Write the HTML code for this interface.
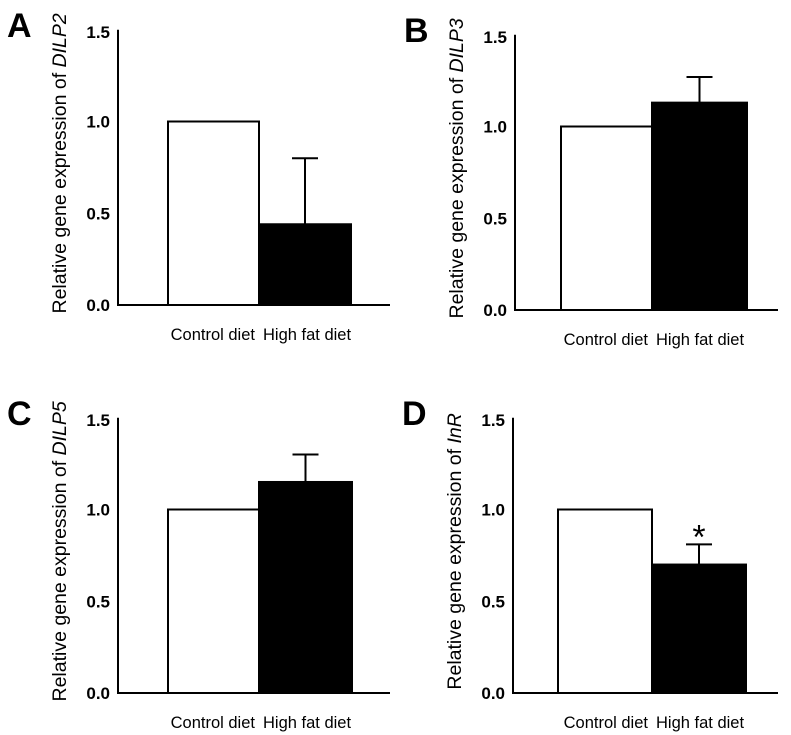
<!DOCTYPE html>
<html><head><meta charset="utf-8"><style>
html,body{margin:0;padding:0;background:#fff;}
svg{display:block;font-family:"Liberation Sans",Arial,sans-serif;}
</style></head><body>
<svg id="fig" width="791" height="735" viewBox="0 0 791 735"></svg>
<script>
const categories = ["Control diet", "High fat diet"];
const panelLetters = ["A", "B", "C", "D"];
const geneNames = ["DILP2", "DILP3", "DILP5", "InR"];
const controlValues = [1.0, 1.0, 1.0, 1.0];
const hfdValues = [0.44, 1.13, 1.15, 0.70];
const hfdErrors = [0.36, 0.14, 0.15, 0.11];
const significant = [false, false, false, true];
const tickLabels = ["0.0", "0.5", "1.0", "1.5"];
const tickValues = [0, 0.5, 1.0, 1.5];

const layout = [
  {ax:118, y0:305, b0:168, b1:259, b2:351, xe:390},
  {ax:515, y0:310, b0:561, b1:652, b2:747, xe:778},
  {ax:118, y0:693, b0:168, b1:259, b2:352, xe:390},
  {ax:513, y0:693, b0:558, b1:652, b2:746, xe:778}
];
const PX_PER_UNIT = 183.5;
const NS = "http://www.w3.org/2000/svg";
const svg = document.getElementById("fig");
function mk(tag, attrs, parent){
  const e = document.createElementNS(NS, tag);
  for (const k in attrs) e.setAttribute(k, attrs[k]);
  (parent||svg).appendChild(e);
  return e;
}
layout.forEach((L, i) => {
  const g = mk("g", {});
  
  
  const y = v => L.y0 - v * PX_PER_UNIT;
  const top = y(1.5);
  const lt = mk("text", {x: L.ax - 111, y: top + 7, "font-size": 34, "font-weight": "bold"}, g);
  lt.textContent = panelLetters[i];
  
  
  const tx = L.ax - 52, ty = (top + L.y0) / 2 - 4;
  const yt = mk("text", {x: tx, y: ty, "font-size": 19.5, "text-anchor": "middle", transform: `rotate(-90 ${tx} ${ty})`}, g);
  yt.innerHTML = 'Relative gene expression of <tspan font-style="italic">' + geneNames[i] + '</tspan>';
  
  
  tickValues.forEach((tv, k) => {
    const t = mk("text", {x: L.ax - 8, y: y(tv) + (tv === 1.5 ? 8 : 6), "font-size": 17, "font-weight": "bold", "text-anchor": "end"}, g);
    t.textContent = tickLabels[k];
    
    
  });
  const c = mk("rect", {x: L.b0, y: y(controlValues[i]), width: L.b1 - L.b0, height: controlValues[i] * PX_PER_UNIT, fill: "#fff", stroke: "#000", "stroke-width": 2}, g);
  
  
  const h = mk("rect", {x: L.b1, y: y(hfdValues[i]), width: L.b2 - L.b1, height: hfdValues[i] * PX_PER_UNIT, fill: "#000", stroke: "#000", "stroke-width": 2}, g);
  
  
  const mx = (L.b1 + L.b2) / 2;
  const eTop = y(hfdValues[i] + hfdErrors[i]);
  const e1 = mk("line", {x1: mx, x2: mx, y1: y(hfdValues[i]), y2: eTop, stroke: "#000", "stroke-width": 2}, g);
  
  
  const e2 = mk("line", {x1: mx - 13, x2: mx + 13, y1: eTop, y2: eTop, stroke: "#000", "stroke-width": 2}, g);
  
  
  if (significant[i]) {
    const s = mk("text", {x: mx, y: eTop + 4, "font-size": 34, "text-anchor": "middle"}, g);
    s.textContent = "*";
    
    
  }
  const ya = mk("line", {x1: L.ax, x2: L.ax, y1: top, y2: L.y0 + 1, stroke: "#000", "stroke-width": 2}, g);
  
  
  const xa = mk("line", {x1: L.ax - 1, x2: L.xe, y1: L.y0, y2: L.y0, stroke: "#000", "stroke-width": 2}, g);
  
  
  const cl0 = mk("text", {x: L.b1 - 4, y: L.y0 + 35, "font-size": 16.5, "text-anchor": "end"}, g);
  cl0.textContent = categories[0];
  
  
  const cl1 = mk("text", {x: L.b1 + 4, y: L.y0 + 35, "font-size": 16.5, "text-anchor": "start"}, g);
  cl1.textContent = categories[1];
  
  
});
</script>
</body></html>
